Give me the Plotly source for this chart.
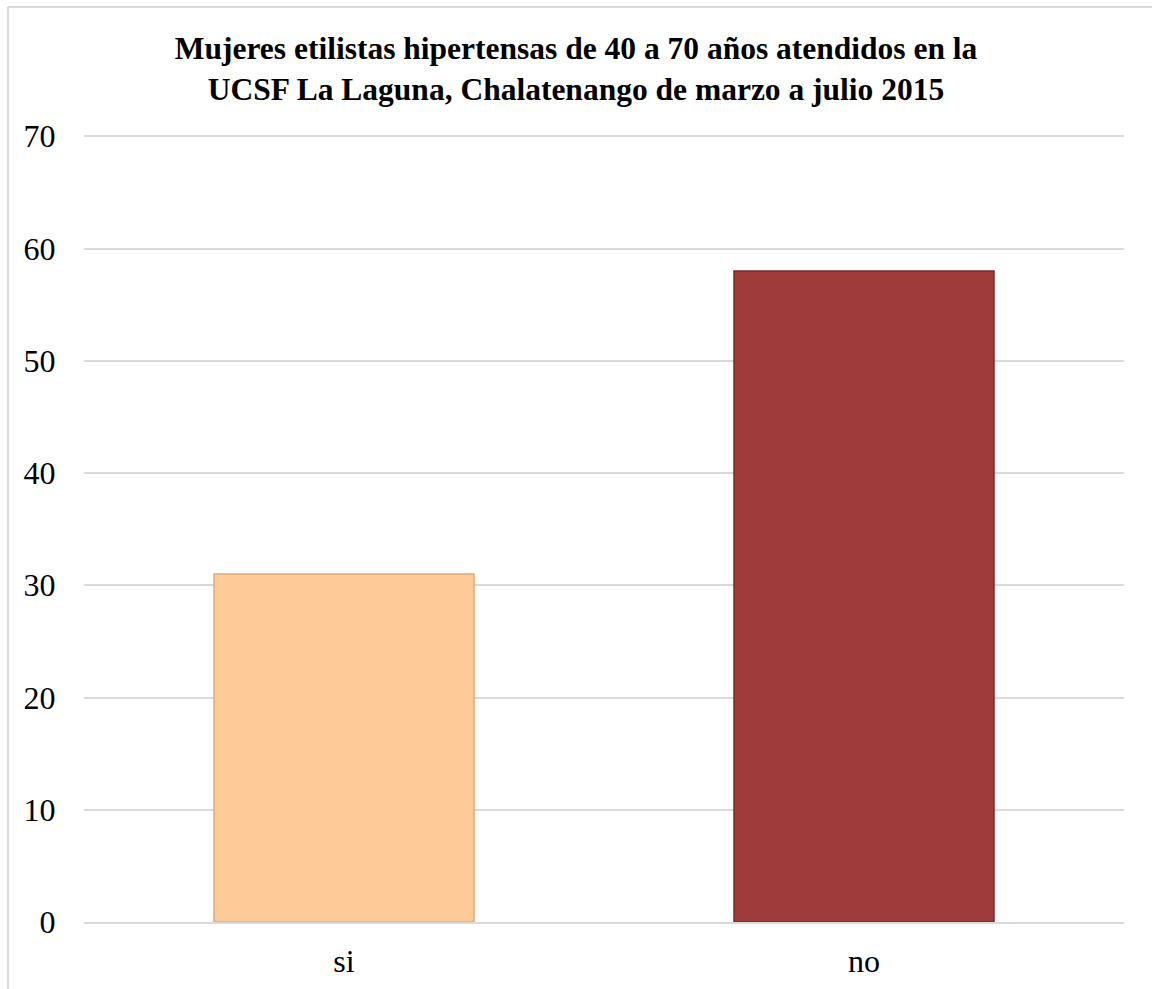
import plotly.graph_objects as go

categories = ["si", "no"]
values = [31, 58]
bar_colors = ["#FECA98", "#9E3C3B"]
edge_colors = ["#E0A878", "#7A2A2A"]
y_ticks = [0, 10, 20, 30, 40, 50, 60, 70]

W, H = 1152, 989
L, R, T, B = 84, 28, 134, 67
Y_MAX = 70.2

fig = go.Figure()
fig.add_trace(go.Bar(
    x=categories, y=values,
    marker=dict(color=bar_colors, line=dict(color=edge_colors, width=1.5)),
    width=0.5,
    hoverinfo="x+y",
))

font_family = "Liberation Serif, Times New Roman, serif"

fig.update_layout(
    width=W, height=H,
    margin=dict(l=L, r=R, t=T, b=B, autoexpand=False),
    paper_bgcolor="white", plot_bgcolor="white",
    showlegend=False,
    font=dict(family=font_family, size=32, color="black"),
    title=dict(
        text="<b>Mujeres etilistas hipertensas de 40 a 70 años atendidos en la<br>UCSF La Laguna, Chalatenango de marzo a julio 2015</b>",
        x=0.5, xanchor="center", xref="container",
        y=1 - 59 / H, yanchor="top", yref="container",
        font=dict(family=font_family, size=31.5, color="black"),
        automargin=False,
    ),
    xaxis=dict(
        showgrid=False, showline=True, linecolor="#D9D9D9", linewidth=2,
        ticks="outside", ticklen=10, tickcolor="rgba(0,0,0,0)",
        tickfont=dict(family=font_family, size=32, color="black"),
        zeroline=False, automargin=False,
    ),
    yaxis=dict(
        range=[0, Y_MAX], tickvals=y_ticks,
        showgrid=True, gridcolor="#D9D9D9", gridwidth=1.5,
        showline=False, zeroline=False,
        ticks="outside", ticklen=21, tickcolor="rgba(0,0,0,0)",
        tickfont=dict(family=font_family, size=32, color="black"),
        automargin=False,
    ),
    bargap=0.5,
)

# outer chart border (left and top edges visible in reference)
pw = W - L - R
ph = H - T - B
bx = (8 - L) / pw
by = ((H - B) - 7) / ph
fig.add_shape(type="line", xref="paper", yref="paper",
              x0=bx, x1=(W + 20 - L) / pw, y0=by, y1=by,
              line=dict(color="#D9D9D9", width=2))
fig.add_shape(type="line", xref="paper", yref="paper",
              x0=bx, x1=bx, y0=by, y1=-(B + 20) / ph,
              line=dict(color="#D9D9D9", width=2))

fig.write_html("out.html")
